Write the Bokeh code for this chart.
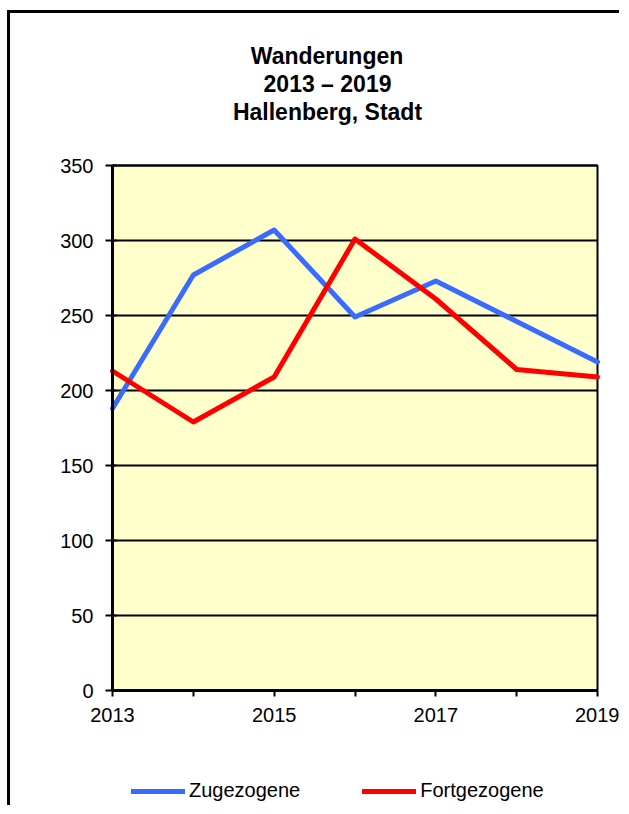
from bokeh.plotting import figure
from bokeh.models import (ColumnDataSource, FixedTicker, Range1d, Legend, LegendItem, Title,
                          BoxAnnotation, LinearAxis)
from bokeh.embed import file_html
from bokeh.resources import INLINE

years = [2013, 2014, 2015, 2016, 2017, 2018, 2019]
zugezogene = [188, 277, 307, 249, 273, 246, 219]
fortgezogene = [213, 179, 209, 301, 261, 214, 209]
x_tick_labels = {2013: "2013", 2014: "", 2015: "2015", 2016: "", 2017: "2017", 2018: "", 2019: "2019"}
y_ticks = [0, 50, 100, 150, 200, 250, 300, 350]
title_lines = ["Wanderungen", "2013 \u2013 2019", "Hallenberg, Stadt"]

FONT = "Liberation Sans"
TITLE_SIZE = 23

# layout geometry (pixels, relative to the canvas)
W, H = 612, 795
BORDER_TOP = 130          # space for the title block
AREA_TOP = 152            # top edge of the yellow value area
AREA_LEFT = 102           # left edge of the yellow value area
AREA_W, AREA_H = 485, 525  # size of the yellow value area
frame_h = H - BORDER_TOP
px_x = AREA_W / (years[-1] - years[0])
px_y = AREA_H / (y_ticks[-1] - y_ticks[0])
x_start = years[0] - AREA_LEFT / px_x
x_end = x_start + W / px_x
y_end = y_ticks[-1] + (AREA_TOP - BORDER_TOP) / px_y
y_start = y_end - frame_h / px_y

src = ColumnDataSource(dict(year=years, zu=zugezogene, fort=fortgezogene))
grid_src = ColumnDataSource(dict(y=y_ticks, x0=[years[0]] * len(y_ticks), x1=[years[-1]] * len(y_ticks)))

p = figure(width=W, height=H, output_backend="svg", toolbar_location=None,
           x_range=Range1d(x_start, x_end), y_range=Range1d(y_start, y_end),
           x_axis_location=None, y_axis_location=None,
           min_border_left=0, min_border_right=0, min_border_top=BORDER_TOP,
           min_border_bottom=0)
p.styles = {"border-left": "3px solid black", "border-top": "3px solid black",
            "margin-top": "10px", "margin-left": "7px"}

# title lines, each centred horizontally around the chart box centre
_w = {"W": 944, "a": 556, "n": 611, "d": 611, "e": 556, "r": 389, "u": 611, "g": 611,
      "0": 556, "1": 556, "2": 556, "3": 556, "9": 556, " ": 278, "\u2013": 556,
      "H": 722, "l": 278, "b": 611, ",": 278, "S": 667, "t": 333}
CENTER_X = 317
p.add_layout(Title(text=" ", text_font_size="1px", standoff=16), "above")
for line in reversed(title_lines):
    width = sum(_w.get(c, 556) for c in line) * TITLE_SIZE / 1000.0
    t = Title(text=line, align="left", offset=CENTER_X - width / 2.0,
              text_font=FONT, text_font_size=f"{TITLE_SIZE}px", text_font_style="bold",
              text_color="black", standoff=0)
    p.add_layout(t, "above")

p.background_fill_color = "white"
p.border_fill_color = "white"
p.outline_line_color = None
p.grid.visible = False

# yellow plot area
area = BoxAnnotation(left=years[0], right=years[-1], bottom=y_ticks[0], top=y_ticks[-1],
                     fill_color="#FFFFCC", fill_alpha=1.0, line_color="black", line_width=2,
                     line_alpha=1.0, level="image")
p.add_layout(area)

# horizontal grid lines at the y ticks
p.segment(x0="x0", x1="x1", y0="y", y1="y", source=grid_src, line_color="black", line_width=2)

# axes
xaxis = LinearAxis(ticker=FixedTicker(ticks=years), fixed_location=y_ticks[0],
                   bounds=(years[0], years[-1]), major_label_overrides=x_tick_labels)
yaxis = LinearAxis(ticker=FixedTicker(ticks=y_ticks), fixed_location=years[0],
                   bounds=(y_ticks[0], y_ticks[-1]))
p.add_layout(xaxis, "below")
p.add_layout(yaxis, "left")
for ax in (xaxis, yaxis):
    ax.axis_line_color = "black"
    ax.axis_line_width = 3
    ax.major_tick_line_color = "black"
    ax.major_tick_line_width = 2
    ax.minor_tick_line_color = None
    ax.major_label_text_font = FONT
    ax.major_label_text_font_size = "20px"
    ax.major_label_text_color = "black"
xaxis.major_tick_in = 0
xaxis.major_tick_out = 6
xaxis.major_label_standoff = 11
yaxis.major_tick_in = 4
yaxis.major_tick_out = 7
yaxis.major_label_standoff = 12

r1 = p.line("year", "zu", source=src, line_color="#3A6BFF", line_width=5, line_join="round", line_cap="round")
r2 = p.line("year", "fort", source=src, line_color="#FF0000", line_width=5, line_join="round", line_cap="round")

legend = Legend(items=[LegendItem(label="Zugezogene", renderers=[r1]),
                       LegendItem(label="Fortgezogene", renderers=[r2])],
                orientation="horizontal", location=(AREA_LEFT + 19, 6),
                glyph_width=54, glyph_height=20, label_standoff=4, spacing=62,
                padding=0, margin=0, border_line_color=None, background_fill_alpha=0,
                label_text_font=FONT, label_text_font_size="20px", label_text_color="black")
p.add_layout(legend, "center")

open("out.html", "w").write(file_html(p, INLINE))
